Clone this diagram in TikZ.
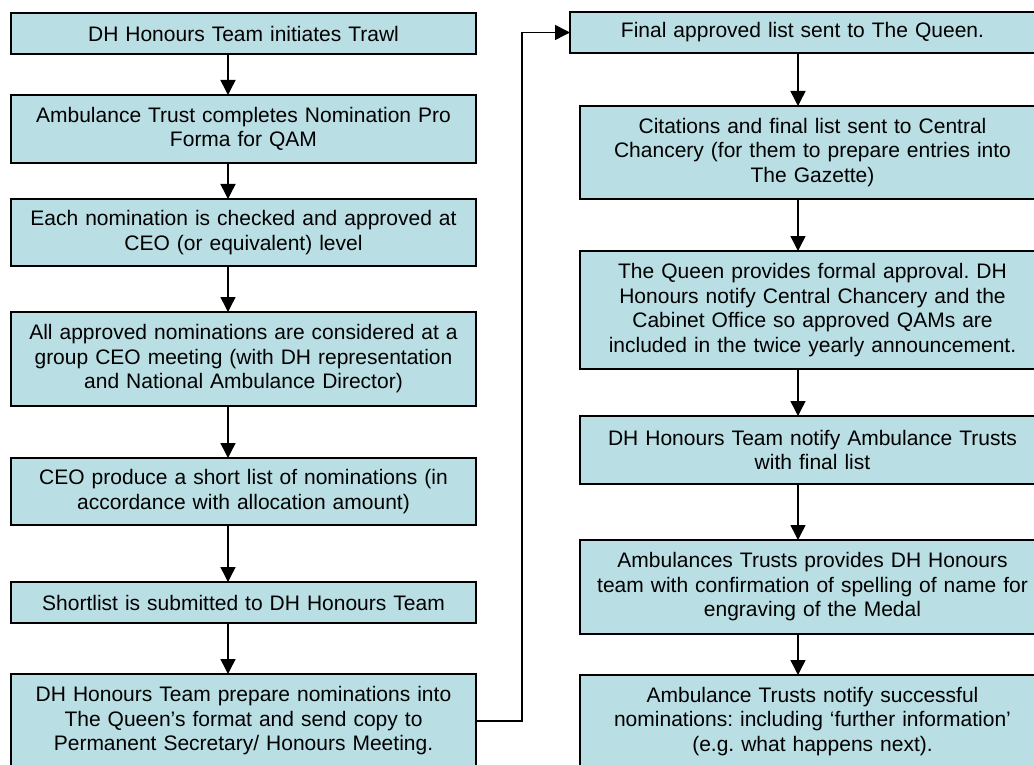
\documentclass[tikz,border=0pt]{standalone}
\usepackage{fontspec}
\setmainfont{Liberation Sans}
\usepackage{tikz}
\usetikzlibrary{positioning,arrows.meta}
\definecolor{boxfill}{RGB}{185,222,227}
\frenchspacing

\begin{document}
\begin{tikzpicture}[auto,
    ->,
    >={Triangle[width=15pt,length=15pt]},
    bb/.style={%
      rectangle, draw=black, line width=1.6pt, fill=boxfill, outer sep=0pt,
      text width=455pt, inner xsep=5pt, inner ysep=2pt, align=center,
      font=\fontsize{21}{24.5}\selectfont
    },
    link/.style={line width=1.5pt}
]
  \useasboundingbox (0,0) rectangle (1034pt,-765pt);
  \clip (0,0) rectangle (1034pt,-765pt);

  % left column
  \node[bb, minimum height=41pt] (1) at (243.5pt,-33.5pt) {DH Honours Team initiates Trawl};
  \node[bb, minimum height=68pt] (2) [below = 41pt of 1] {Ambulance Trust completes Nomination Pro\\ Forma for QAM};
  \node[bb, minimum height=67pt] (3) [below = 36pt of 2] {Each nomination is checked and approved at\\ CEO (or equivalent) level};
  \node[bb, minimum height=94pt] (4) [below = 46pt of 3] {All approved nominations are considered at a\\ group CEO meeting (with DH representation\\ and National Ambulance Director)};
  \node[bb, minimum height=67pt] (5) [below = 52pt of 4] {CEO produce a short list of nominations (in\\ accordance with allocation amount)};
  \node[bb, minimum height=41pt] (6) [below = 57pt of 5] {Shortlist is submitted to DH Honours Team};
  \node[bb, minimum height=94pt] (7) [below = 51pt of 6] {DH Honours Team prepare nominations into\\ The Queen's format and send copy to\\ Permanent Secretary/ Honours Meeting.};

  % right column
  \node[bb, minimum height=41pt] (8) at (802.5pt,-32.5pt) {Final approved list sent to The Queen.};
  \node[bb, minimum height=93pt] (9) [below = 53pt of 8, xshift=10pt] {Citations and final list sent to Central\\ Chancery (for them to prepare entries into\\ The Gazette)};
  \node[bb, minimum height=118pt] (10) [below = 52pt of 9] {The Queen provides formal approval. DH\\ Honours notify Central Chancery and the\\ Cabinet Office so approved QAMs are\\ included in the twice yearly announcement.};
  \node[bb, minimum height=68pt] (11) [below = 47pt of 10] {DH Honours Team notify Ambulance Trusts\\ with final list};
  \node[bb, minimum height=94pt] (12) [below = 56pt of 11] {Ambulances Trusts provides DH Honours\\ team with confirmation of spelling of name for\\ engraving of the Medal};
  \node[bb, minimum height=93pt] (13) [below = 41pt of 12] {Ambulance Trusts notify successful\\ nominations: including `further information'\\ (e.g. what happens next).};

  \draw[link] ([xshift=-15.5pt]1.south) -- ([xshift=-15.5pt]2.north);
  \draw[link] ([xshift=-15.5pt]2.south) -- ([xshift=-15.5pt]3.north);
  \draw[link] ([xshift=-15.5pt]3.south) -- ([xshift=-15.5pt]4.north);
  \draw[link] ([xshift=-15.5pt]4.south) -- ([xshift=-15.5pt]5.north);
  \draw[link] ([xshift=-15.5pt]5.south) -- ([xshift=-15.5pt]6.north);
  \draw[link] ([xshift=-15.5pt]6.south) -- ([xshift=-15.5pt]7.north);

  \draw[link] (7.east) -- ++(46pt,0) |- (8.west);

  \draw[link] ([xshift=-14.5pt]9.north |- 8.south) -- ([xshift=-14.5pt]9.north);
  \draw[link] ([xshift=-14.5pt]9.south) -- ([xshift=-14.5pt]10.north);
  \draw[link] ([xshift=-14.5pt]10.south) -- ([xshift=-14.5pt]11.north);
  \draw[link] ([xshift=-14.5pt]11.south) -- ([xshift=-14.5pt]12.north);
  \draw[link] ([xshift=-14.5pt]12.south) -- ([xshift=-14.5pt]13.north);
\end{tikzpicture}
\end{document}
